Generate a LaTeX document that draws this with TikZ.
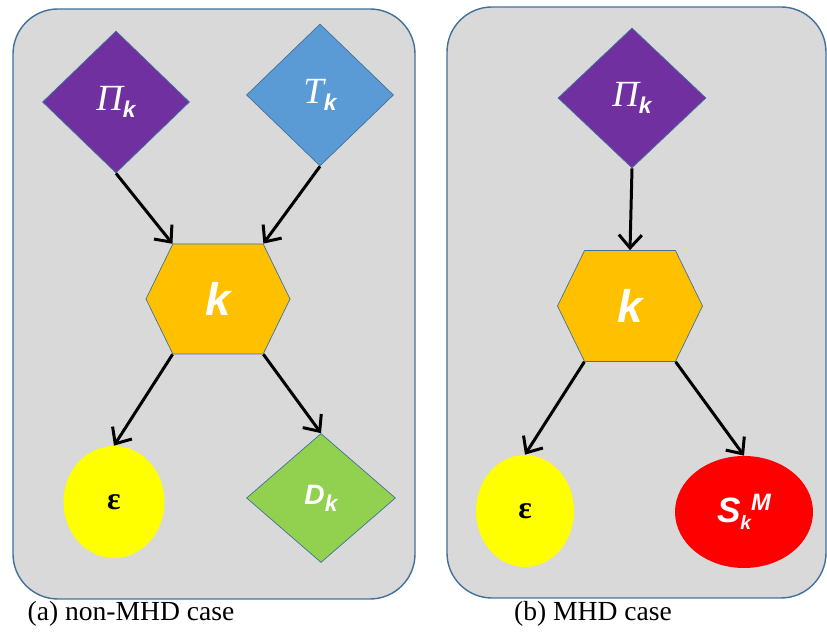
\documentclass[tikz,border=0pt]{standalone}
\usepackage{fontspec}
\setmainfont{Liberation Serif}
\setsansfont{Liberation Sans}
\usetikzlibrary{shapes.geometric, shapes.symbols, arrows.meta}

\definecolor{panelgray}{HTML}{D9D9D9}
\definecolor{edgeblue}{HTML}{41719C}
\definecolor{prodpurple}{HTML}{7030A0}
\definecolor{transblue}{HTML}{5B9BD5}
\definecolor{hexorange}{HTML}{FFC000}
\definecolor{dissyellow}{HTML}{FFFF00}
\definecolor{diffgreen}{HTML}{92D050}
\definecolor{sinkred}{HTML}{FF0000}

\newcommand{\bigsym}[1]{{\fontsize{21}{21}\selectfont\itshape #1}}
\newcommand{\sfsym}[2]{{\fontsize{#1}{#1}\selectfont\sffamily\bfseries\itshape #2}}
\newcommand{\lowk}[1]{\raisebox{-4pt}{\sfsym{#1}{k}}}

\tikzstyle{panel} = [
    rounded corners=0.9cm,
    fill=panelgray,
    draw=edgeblue,
    line width=0.8pt
]
\tikzstyle{term} = [
    diamond,
    aspect=1,
    inner sep=0pt,
    minimum width=2.94cm,
    minimum height=2.84cm,
    draw=edgeblue,
    text=white
]
\tikzstyle{hexa} = [
    signal,
    signal to=east and west,
    signal pointer angle=128,
    inner sep=0pt,
    minimum width=2.88cm,
    minimum height=2.2cm,
    fill=hexorange,
    draw=edgeblue,
    text=white
]
\tikzstyle{sink} = [
    ellipse,
    inner sep=0pt,
    minimum width=2cm,
    minimum height=2.24cm
]
\tikzstyle{caption} = [font=\fontsize{15.7}{18}\selectfont]
\tikzstyle{arrow} = [line width=1.7pt,-{Straight Barb[length=2.6mm,width=4.6mm]}]

\begin{document}
\begin{tikzpicture}[node distance=4cm]

\useasboundingbox (0,0) rectangle (16.54,12.68);

% panels
\draw [panel] (0.26,0.70) rectangle (8.30,12.50);
\draw [panel] (8.94,0.72) rectangle (16.52,12.54);

% (a) non-MHD case
\node (piA) [term, fill=prodpurple] at (2.32,10.64)
{\bigsym{Π}\lowk{13}};

\node (tA) [term, fill=transblue, right of=piA, xshift=0.08cm, yshift=0.14cm]
{\bigsym{T}\lowk{13}};

\node (kA) [hexa, below of=piA, xshift=2.04cm, yshift=0.06cm]
{\sfsym{26}{k}};

\node (epsA) [sink, fill=dissyellow, minimum width=2.02cm, below of=kA, xshift=-2.08cm, yshift=-0.06cm]
{\fontsize{18}{18}\selectfont\bfseries ε};

\node (dA) [term, fill=diffgreen, minimum width=2.98cm, minimum height=2.58cm, right of=epsA, xshift=0.14cm, yshift=0.08cm]
{\sfsym{16}{D}\lowk{13}};

\node (capA) [caption] at (2.62,0.40) {(a) non-MHD case};

\draw [arrow] (piA.south) -- (kA.north west);
\draw [arrow] (tA.south) -- (kA.north east);
\draw [arrow] (kA.south west) -- (epsA.north);
\draw [arrow] (kA.south east) -- (dA.north);

% (b) MHD case
\node (piB) [term, fill=prodpurple, minimum width=2.96cm, minimum height=2.8cm] at (12.64,10.72)
{\bigsym{Π}\lowk{13}};

\node (kB) [hexa, minimum width=2.9cm, minimum height=2.22cm, below of=piB, xshift=-0.04cm, yshift=-0.16cm]
{\sfsym{26}{k}};

\node (epsB) [sink, fill=dissyellow, minimum width=1.96cm, below of=kB, xshift=-2.10cm, yshift=-0.10cm]
{\fontsize{18}{18}\selectfont\bfseries ε};

\node (sB) [sink, fill=sinkred, text=white, minimum width=2.76cm, right of=epsB, xshift=0.38cm, yshift=-0.02cm]
{\sfsym{20}{S}\lowk{11}\raisebox{7pt}{\sfsym{13.5}{M}}};

\node (capB) [caption] at (11.86,0.40) {(b) MHD case};

\draw [arrow] (piB.south) -- (kB.north);
\draw [arrow] (kB.south west) -- (epsB.north);
\draw [arrow] (kB.south east) -- (sB.north);

\end{tikzpicture}
\end{document}
